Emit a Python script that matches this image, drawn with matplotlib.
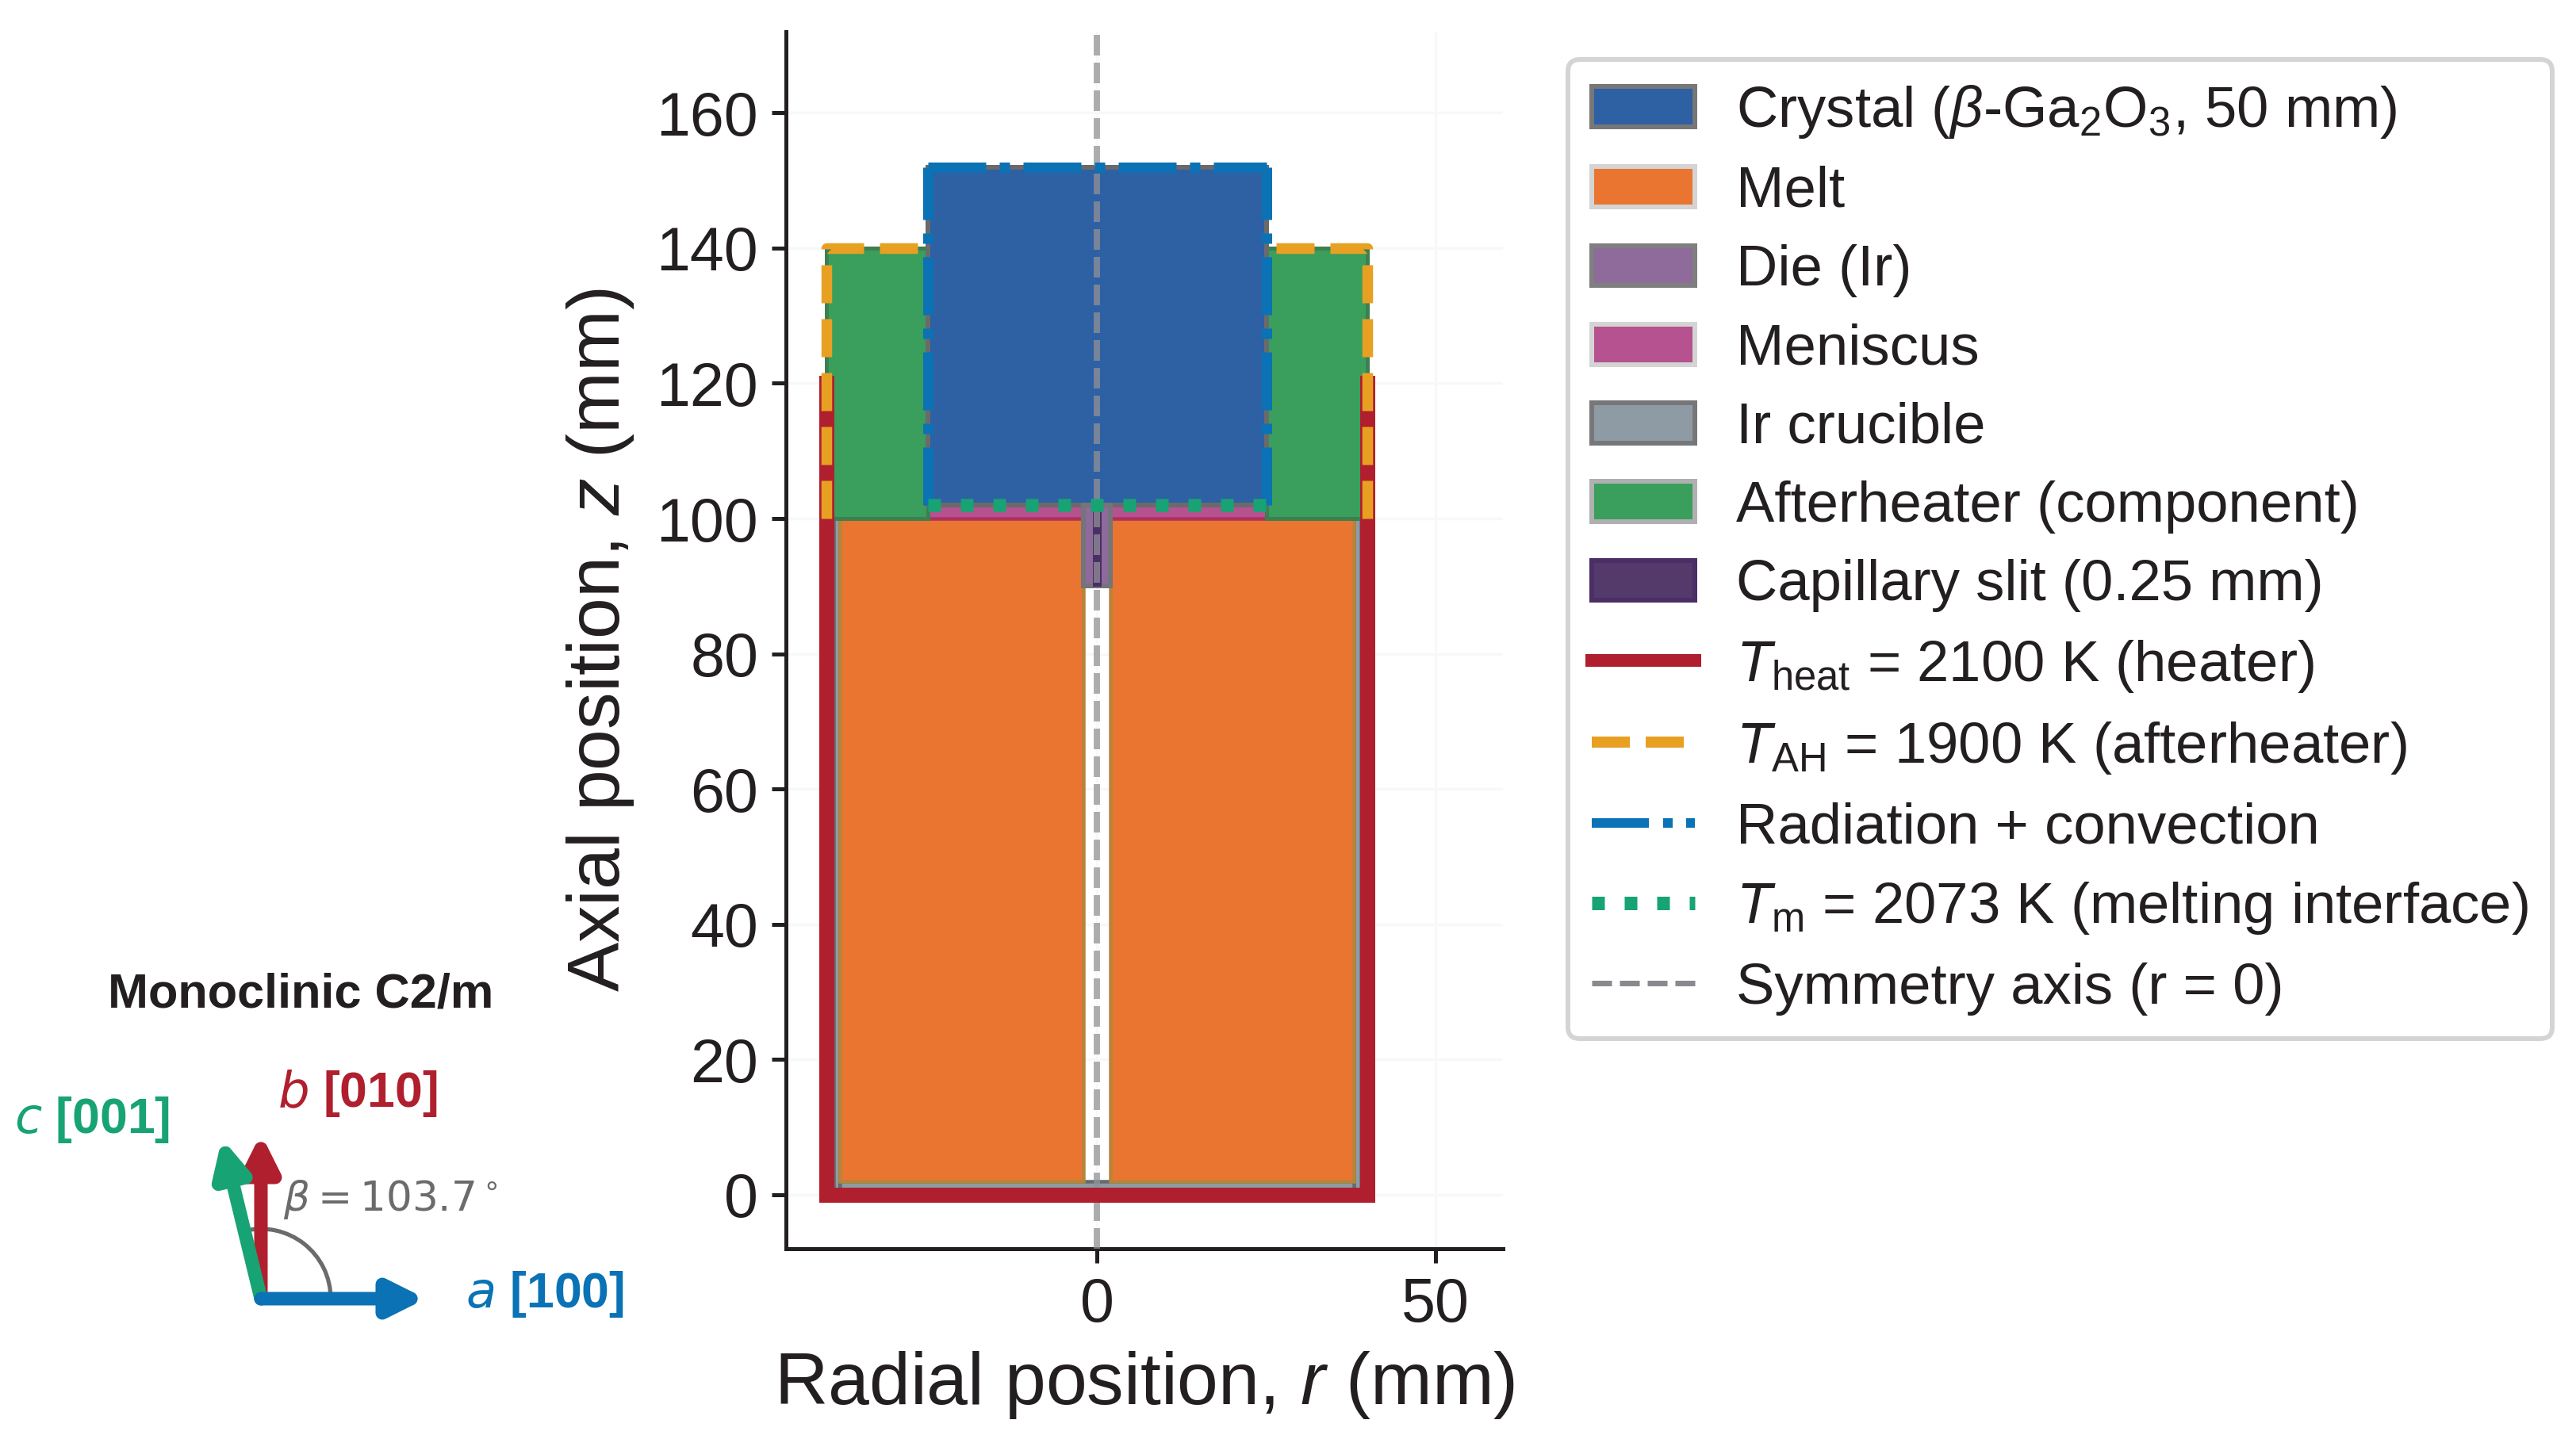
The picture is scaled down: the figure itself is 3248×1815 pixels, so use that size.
import numpy as np
import matplotlib
matplotlib.use("Agg")
import matplotlib.pyplot as plt
from matplotlib.patches import Rectangle, Patch, FancyArrowPatch, Arc
from matplotlib.lines import Line2D

plt.rcParams['font.family'] = ['Liberation Sans', 'DejaVu Sans']
plt.rcParams['mathtext.fontset'] = 'custom'
plt.rcParams['mathtext.rm'] = 'Liberation Sans'
plt.rcParams['mathtext.it'] = 'Liberation Sans:italic'
plt.rcParams['mathtext.bf'] = 'Liberation Sans:bold'
plt.rcParams['lines.scale_dashes'] = False

W, H, DPI = 3248, 1815, 300
px = 72 / DPI  # one pixel in points

# ---- geometry (mm): (r_left, z_bottom, width, height)
crucible_parts = [(-39, 0, 1, 100), (38, 0, 1, 100), (-38, 0, 76, 2)]
melt_parts = [(-38, 2, 36, 98), (2, 2, 36, 98)]
afterheater_parts = [(-40, 100, 15, 40), (25, 100, 15, 40)]
meniscus_part = (-25, 100, 50, 2)
crystal_part = (-25, 102, 50, 50)
die_part = (-2, 90, 4, 12)
capillary_part = (-0.55, 90, 1.1, 12)

heater_r = [-40, -40, 40, 40]
heater_z = [120, 0, 0, 120]
ah_left_r = [-40, -40, -25]
ah_left_z = [100, 140, 140]
ah_right_r = [40, 40, 25]
ah_right_z = [100, 140, 140]
rad_left_r = [-25, -25]
rad_right_r = [25, 25]
rad_side_z = [102, 152]
rad_top_r = [-25, 25]
rad_top_z = [152, 152]
melt_if_r = [-25, 25]
melt_if_z = [102, 102]

r_ticks = [0, 50]
z_ticks = [0, 20, 40, 60, 80, 100, 120, 140, 160]
r_lim = (-46, 60)
z_lim = (-8, 172)

# crystal vectors
beta_deg = 103.7
vec_a = (1.0, 0.0)
vec_b = (0.0, 1.0)

legend_patch_labels = [r'Crystal ($\beta$-Ga$_2$O$_3$, 50 mm)', 'Melt', 'Die (Ir)', 'Meniscus',
                       'Ir crucible', 'Afterheater (component)', 'Capillary slit (0.25 mm)']
legend_line_labels = [r'$T_{\mathrm{heat}}$ = 2100 K (heater)', r'$T_{\mathrm{AH}}$ = 1900 K (afterheater)',
                      'Radiation + convection', r'$T_{\mathrm{m}}$ = 2073 K (melting interface)',
                      'Symmetry axis (r = 0)']

C_CRYSTAL, C_MELT, C_DIE, C_MEN = '#2e60a4', '#ea7530', '#8e6b9b', '#b5528f'
C_CRU, C_AH, C_CAP = '#8e9ba4', '#3a9e5c', '#54396b'
C_HEAT, C_TAH, C_RAD, C_TM = '#b01f2e', '#e8a023', '#0a72b5', '#18a374'
C_TXT = '#231f20'

fig = plt.figure(figsize=(W / DPI, H / DPI), dpi=DPI)
ax = fig.add_axes([991 / W, (H - 1575) / H, 904 / W, 1535 / H])
ax.set_xlim(*r_lim)
ax.set_ylim(*z_lim)
ax.set_aspect('equal')

LW_EDGE = 4.5 * px
for p in crucible_parts:
    ax.add_patch(Rectangle(p[:2], p[2], p[3], fc=C_CRU, ec='#666a6e', lw=LW_EDGE, zorder=2))
for p in melt_parts:
    ax.add_patch(Rectangle(p[:2], p[2], p[3], fc=C_MELT, ec='#b5853a', lw=LW_EDGE, zorder=3))
ax.add_patch(Rectangle(meniscus_part[:2], meniscus_part[2], meniscus_part[3], fc=C_MEN, ec='#b03060',
                       lw=LW_EDGE, zorder=3.5))
for p in afterheater_parts:
    ax.add_patch(Rectangle(p[:2], p[2], p[3], fc=C_AH, ec='#3e7f50', lw=5 * px, zorder=4))
ax.add_patch(Rectangle(crystal_part[:2], crystal_part[2], crystal_part[3], fc=C_CRYSTAL, ec='#6a6a6c',
                       lw=6 * px, zorder=5))
ax.add_patch(Rectangle(die_part[:2], die_part[2], die_part[3], fc=C_DIE, ec='#74747a', lw=6 * px, zorder=6))
ax.add_patch(Rectangle(capillary_part[:2], capillary_part[2], capillary_part[3], fc='#4b2e66', ec='#4b2e66',
                       lw=2 * px, zorder=7))

ax.axvline(0, color=(146 / 255, 146 / 255, 150 / 255), alpha=0.74, lw=8 * px,
           ls=(0, (26 * px, 9 * px)), zorder=8)

ax.plot(heater_r, heater_z, color=C_HEAT, lw=19 * px, solid_capstyle='projecting',
        solid_joinstyle='miter', zorder=9)
ds_ah = (0, (48 * px, 20 * px))
ax.plot(ah_left_r, ah_left_z, color=C_TAH, lw=13.5 * px, ls=ds_ah, zorder=10)
ax.plot(ah_right_r, ah_right_z, color=C_TAH, lw=13.5 * px, ls=ds_ah, zorder=10)
ds_rad = (0, (73 * px, 17 * px, 13 * px, 17 * px))
ax.plot(rad_left_r, rad_side_z, color=C_RAD, lw=13 * px, ls=ds_rad, zorder=11)
ax.plot(rad_right_r, rad_side_z, color=C_RAD, lw=13 * px, ls=ds_rad, zorder=11)
ax.plot(rad_top_r, rad_top_z, color=C_RAD, lw=13 * px, ls=ds_rad, zorder=11)
ax.plot(melt_if_r, melt_if_z, color=C_TM, lw=16.5 * px, ls=(0, (16 * px, 25 * px)), zorder=12)

ax.set_xticks(r_ticks)
ax.set_yticks(z_ticks)
ax.grid(True, color='#f8f8f8', lw=0.8)
ax.set_axisbelow(True)
for s in ('top', 'right'):
    ax.spines[s].set_visible(False)
for s in ('left', 'bottom'):
    ax.spines[s].set_linewidth(1.2)
    ax.spines[s].set_color(C_TXT)
ax.tick_params(length=4.4, width=1.2, labelsize=18.5, colors=C_TXT, pad=4)
ax.set_xlabel(r'Radial position, $r$ (mm)', fontsize=22.4, color=C_TXT, labelpad=4.5)
ax.set_ylabel(r'Axial position, $z$ (mm)', fontsize=22.4, color=C_TXT, labelpad=6)

handles = [
    Patch(fc=C_CRYSTAL, ec='#777777', lw=6 * px),
    Patch(fc=C_MELT, ec='#d4d4d4', lw=6 * px),
    Patch(fc=C_DIE, ec='#7f7f7f', lw=6 * px),
    Patch(fc=C_MEN, ec='#d4d4d4', lw=6 * px),
    Patch(fc=C_CRU, ec='#77777a', lw=6 * px),
    Patch(fc=C_AH, ec='#b0b0b0', lw=6 * px),
    Patch(fc=C_CAP, ec='#4b2e66', lw=6 * px),
    Line2D([], [], color=C_HEAT, lw=16 * px, solid_capstyle='projecting'),
    Line2D([], [], color=C_TAH, lw=14 * px, ls=ds_ah),
    Line2D([], [], color=C_RAD, lw=12 * px, ls=(0, (72 * px, 18 * px, 12 * px, 17 * px))),
    Line2D([], [], color=C_TM, lw=17 * px, ls=(0, (16 * px, 25 * px))),
    Line2D([], [], color='#89898e', lw=7 * px, ls=(0, (25 * px, 10 * px))),
]
leg = ax.legend(handles, legend_patch_labels + legend_line_labels, loc='upper left',
                bbox_to_anchor=(1977 / W, (H - 75) / H), bbox_transform=fig.transFigure,
                borderaxespad=0, fontsize=17.4, labelspacing=0.445, handlelength=1.8,
                handletextpad=0.72, borderpad=0.41, frameon=True, fancybox=True,
                framealpha=1, edgecolor='#d4d4d6', labelcolor=C_TXT)
leg.get_frame().set_linewidth(6 * px)

# ---- lattice inset: one unit = 208 px, origin at pixel (329, 1638)
U = 208
ins = fig.add_axes([0, (H - 1700) / H, 624 / W, 500 / H])
ins.set_xlim(-329 / U, 295 / U)
ins.set_ylim(-62 / U, 438 / U)
ins.axis('off')
ins.patch.set_alpha(0)
b_rad = np.deg2rad(beta_deg)
vec_c = (np.cos(b_rad), np.sin(b_rad))

ins.add_patch(Arc((0, 0), 2 * 88 / U, 2 * 88 / U, theta1=0, theta2=beta_deg, color='#6b6b6b', lw=1.25, zorder=1))


def arrow(vec, col, z, lw_px):
    ms = lw_px * px * 4
    ins.add_patch(FancyArrowPatch((0, 0), vec,
                                  arrowstyle=f'-|>,head_length={36 * px / ms},head_width={18 * px / ms}',
                                  mutation_scale=ms, color=col, lw=lw_px * px, shrinkA=0, shrinkB=0,
                                  capstyle='round', joinstyle='round', zorder=z))


arrow(vec_b, C_HEAT, 2, 17)
arrow(vec_c, C_TM, 3, 17)
arrow(vec_a, C_RAD, 4, 17)

fig.text(379 / W, (H - 1255) / H, 'Monoclinic C2/m', fontsize=14.7, fontweight='bold', color=C_TXT,
         ha='center', va='center')
fig.text(18 / W, (H - 1412) / H, r'$\mathit{c}$ [001]', fontsize=15, fontweight='bold', color=C_TM,
         ha='left', va='center', math_fontfamily='dejavusans')
fig.text(350 / W, (H - 1379) / H, r'$\mathit{b}$ [010]', fontsize=15, fontweight='bold', color=C_HEAT,
         ha='left', va='center', math_fontfamily='dejavusans')
fig.text(587 / W, (H - 1632) / H, r'$\mathit{a}$ [100]', fontsize=15, fontweight='bold', color=C_RAD,
         ha='left', va='center', math_fontfamily='dejavusans')
fig.text(357 / W, (H - 1513) / H, r'$\beta = 103.7^\circ$', fontsize=12.4, color='#6b6b6b',
         ha='left', va='center', math_fontfamily='dejavusans')

fig.savefig('out.png', dpi=DPI)
